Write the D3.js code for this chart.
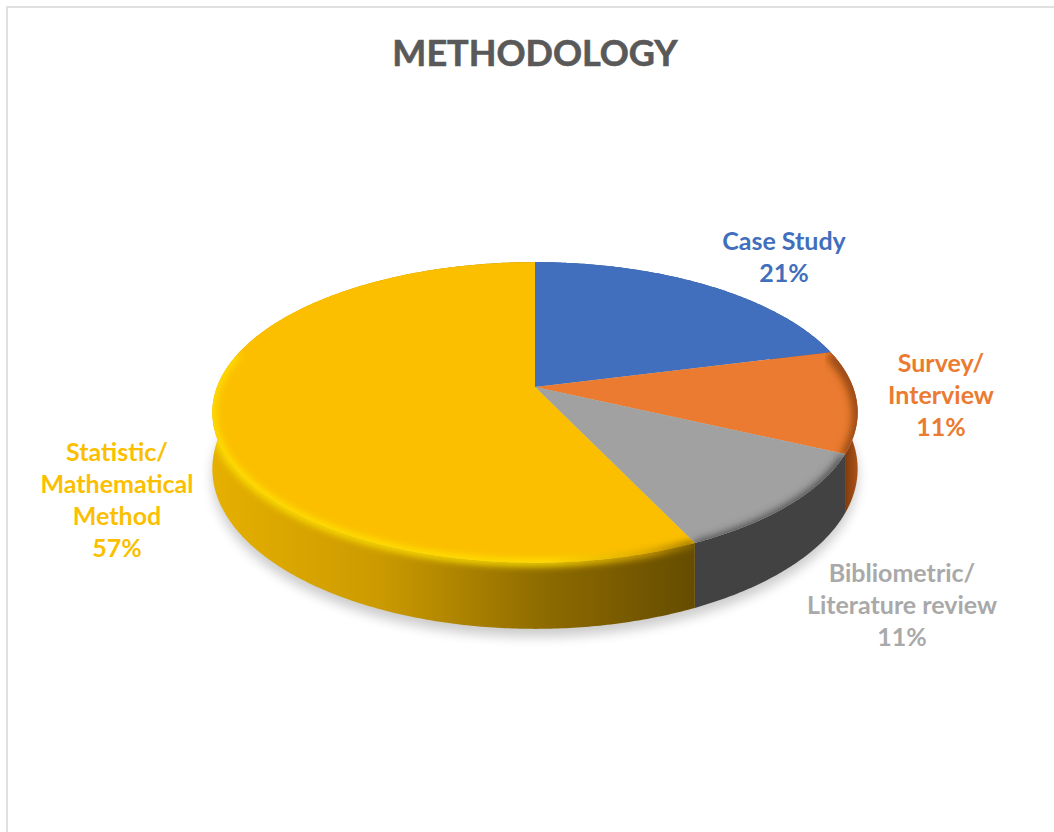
<!DOCTYPE html>
<html>
<head>
<meta charset="utf-8">
<script src="https://cdn.jsdelivr.net/npm/d3@7"></script>
<style>
  html, body { margin: 0; padding: 0; background: #fff; overflow: hidden; }
  text { font-family: Lato, "Open Sans", sans-serif; font-weight: 700; text-anchor: middle; }
</style>
</head>
<body>
<script>
const categories = ['Case Study', 'Survey/ Interview', 'Bibliometric/ Literature review', 'Statistic/ Mathematical Method'];
const values = [21, 11, 11, 57];
const colors = ['#416fbe', '#ea7b30', '#a1a1a1', '#fbbf00'];
const labelColors = ['#416fbe', '#ea7b30', '#a9a9a9', '#fbbf00'];
const labelLines = [['Case Study'], ['Survey/', 'Interview'], ['Bibliometric/', 'Literature review'], ['Statistic/', 'Mathematical', 'Method']];
const labelX = [784, 941, 902, 117];
const labelY = [241, 363, 573, 452];

const width = 1054, height = 832;
// disc projection
const cx = 535, cy = 387, rx = 318, ry = 146, persp = 0.169, depth = 55;

const svg = d3.select('body').append('svg')
  .attr('width', width)
  .attr('height', height)
  .style('display', 'block');
const defs = svg.append('defs');

function blur(id, dev) {
  defs.append('filter').attr('id', id)
    .attr('x', '-20%').attr('y', '-20%').attr('width', '140%').attr('height', '140%')
    .append('feGaussianBlur').attr('stdDeviation', dev);
}
blur('shadowBlur', 6);
blur('rimBlur', 3.5);
blur('rimBlurWide', 4.5);

function gradient(id, x1, x2, stops) {
  const g = defs.append('linearGradient').attr('id', id)
    .attr('gradientUnits', 'userSpaceOnUse')
    .attr('x1', x1).attr('x2', x2).attr('y1', 0).attr('y2', 0);
  stops.forEach(s => g.append('stop').attr('offset', s[0]).attr('stop-color', s[1]));
}
gradient('wallYellow', 212, 694, [[0, '#e6b000'], [0.35, '#cb9a00'], [0.68, '#8f6c00'], [1, '#654c00']]);
gradient('rimYellow', 212, 694, [[0, '#ffe100'], [0.7, '#ffe100'], [0.9, '#d8a400'], [1, '#8a6a00']]);
gradient('wallOrange', 800, 857, [[0, '#843c0c'], [0.8, '#843c0c'], [1, '#a8521a']]);

const wallFill = ['#2f5597', 'url(#wallOrange)', '#424242', 'url(#wallYellow)'];
const rimStroke = ['none', '#843c0c', '#424242', 'url(#rimYellow)'];

// point on the disc rim, z = 0 top face, z = 1 bottom face
function project(angle, z) {
  const u = Math.sin(angle), v = Math.cos(angle), w = 1 + persp * v;
  return [cx + rx * u / w, cy - ry * v / w + z * depth / w];
}
function arcPoints(a0, a1, z) {
  const n = Math.max(2, Math.ceil((a1 - a0) / 0.01));
  return d3.range(n + 1).map(i => project(a0 + (a1 - a0) * i / n, z));
}

const line = d3.line();
const pie = d3.pie().sort(null).value(d => d);
const slices = pie(values);

// frame of the chart area, runs off the right and bottom of the crop
svg.append('rect')
  .attr('x', 7).attr('y', 7)
  .attr('width', width + 20).attr('height', height + 20)
  .attr('fill', '#fff')
  .attr('stroke', '#e0e0e0')
  .attr('stroke-width', 2);

// soft shadow under the disc
svg.append('path')
  .attr('d', line(arcPoints(0, 2 * Math.PI, 1)) + 'Z')
  .attr('transform', 'translate(0,8)')
  .attr('fill', '#000')
  .attr('opacity', 0.2)
  .attr('filter', 'url(#shadowBlur)');

// outer walls first, top faces go over them
function wallPath(d) {
  return line(arcPoints(d.startAngle, d.endAngle, 0).concat(arcPoints(d.startAngle, d.endAngle, 1).reverse())) + 'Z';
}
svg.append('g').selectAll('path')
  .data(slices)
  .enter().append('path')
  .attr('d', wallPath)
  .attr('fill', (d, i) => wallFill[i]);

function facePath(d) {
  return line([[cx, cy]].concat(arcPoints(d.startAngle, d.endAngle, 0))) + 'Z';
}

svg.append('g').selectAll('path')
  .data(slices)
  .enter().append('path')
  .attr('d', facePath)
  .attr('fill', (d, i) => colors[i]);

// bevel along the front rim, blurred and clipped to the slice
slices.forEach((d, i) => {
  if (i === 0) return;
  const clipId = 'clip' + i;
  const clip = defs.append('clipPath').attr('id', clipId);
  clip.append('path').attr('d', facePath(d));
  if (i === 3) clip.append('path').attr('d', wallPath(d));
  const a1 = i === 3 ? Math.min(d.endAngle, 4.95) : d.endAngle;
  svg.append('g').attr('clip-path', 'url(#' + clipId + ')')
    .append('path')
    .attr('d', line(arcPoints(d.startAngle, a1, i === 3 ? 0 : 0.05)))
    .attr('fill', 'none')
    .attr('stroke', rimStroke[i])
    .attr('stroke-width', i === 3 ? 7 : 9)
    .attr('filter', i === 3 ? 'url(#rimBlur)' : 'url(#rimBlurWide)');
});

svg.append('text')
  .attr('x', 535).attr('y', 66)
  .attr('fill', '#595959')
  .attr('stroke', '#595959')
  .attr('stroke-width', 0.6)
  .attr('font-size', 36)
  .text('METHODOLOGY');

// data labels, percent on the last line
const labels = svg.append('g').selectAll('text')
  .data(slices)
  .enter().append('text')
  .attr('font-size', 25)
  .attr('fill', (d, i) => labelColors[i]);
labels.each(function(d, i) {
  const lines = labelLines[i].concat([values[i] + '%']);
  d3.select(this).selectAll('tspan')
    .data(lines)
    .enter().append('tspan')
    .attr('x', labelX[i])
    .attr('y', (t, j) => labelY[i] + 8.5 + j * 32.3)
    .text(t => t);
});
</script>
</body>
</html>
